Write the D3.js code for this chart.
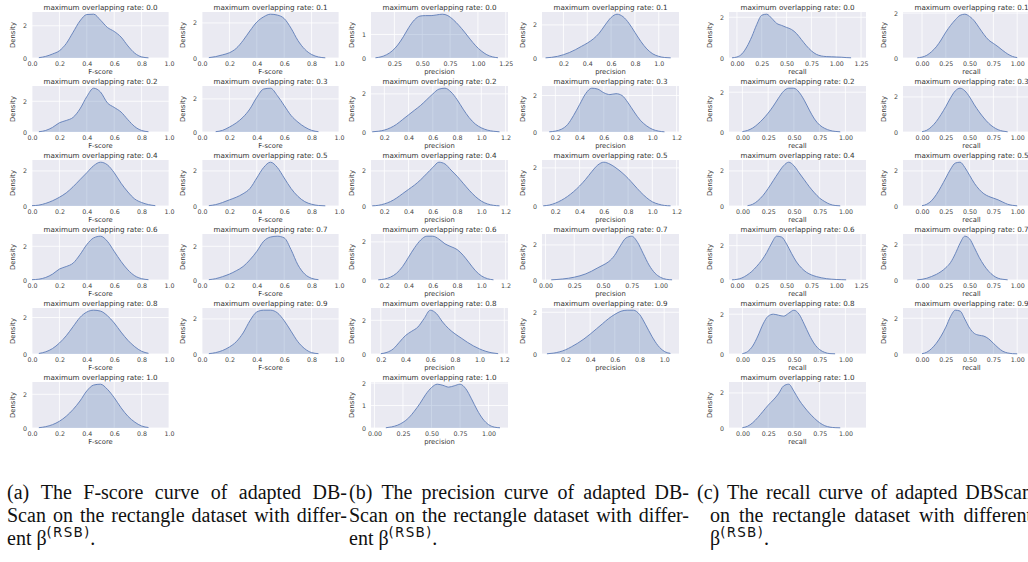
<!DOCTYPE html>
<html>
<head>
<meta charset="utf-8">
<script src="https://cdn.jsdelivr.net/npm/d3@7"></script>
<style>
  body { margin: 0; background: #fff; }
  svg { display: block; }
  .tick text { font-family: "DejaVu Sans", sans-serif; font-size: 6.3px; fill: #444; }
  .cap { font-family: "Liberation Serif", "Times New Roman", serif; font-size: 20px; fill: #111; }
</style>
</head>
<body>
<div id="chart"></div>
<script>
var rates = ["0.0", "0.1", "0.2", "0.3", "0.4", "0.5", "0.6", "0.7", "0.8", "0.9", "1.0"];
var sampleStep = 0.05; // density is read every 0.05 along x

// F-score densities
var fscoreStart = [0.05, 0.05, 0.05, 0.1, 0.0, 0.05, 0.0, 0.05, 0.05, 0.05, 0.05];
var fscoreDensity = [
  [0.02,0.1,0.25,0.45,0.9,1.6,2.3,2.7,2.72,2.35,1.9,1.65,1.3,0.75,0.3,0.07,0.01],
  [0.02,0.08,0.18,0.3,0.55,1.0,1.55,2.05,2.35,2.5,2.45,2.25,1.7,1.0,0.5,0.2,0.06,0.01],
  [0.02,0.1,0.3,0.6,0.75,0.95,1.5,2.3,2.85,2.6,1.9,1.6,1.3,0.8,0.35,0.1,0.02],
  [0.02,0.1,0.3,0.55,0.9,1.4,2.1,2.6,2.65,2.2,1.6,1.0,0.6,0.3,0.1,0.02],
  [0.02,0.05,0.15,0.3,0.5,0.75,1.1,1.5,1.9,2.3,2.5,2.35,1.9,1.3,0.8,0.4,0.2,0.08,0.02],
  [0.02,0.08,0.2,0.35,0.5,0.7,1.0,1.6,2.2,2.5,2.2,1.6,1.0,0.55,0.25,0.1,0.03,0.01],
  [0.02,0.05,0.15,0.35,0.65,0.8,1.0,1.5,2.1,2.5,2.6,2.3,1.7,1.1,0.6,0.25,0.08,0.02],
  [0.02,0.08,0.2,0.35,0.55,0.8,1.2,1.7,2.3,2.55,2.6,2.5,1.8,0.9,0.35,0.1,0.02],
  [0.03,0.12,0.3,0.6,1.0,1.5,2.0,2.3,2.4,2.35,2.1,1.7,1.2,0.75,0.4,0.15,0.04],
  [0.02,0.08,0.2,0.4,0.7,1.2,1.9,2.4,2.5,2.5,2.35,1.9,1.3,0.7,0.3,0.08,0.02],
  [0.02,0.08,0.2,0.4,0.7,1.1,1.6,2.2,2.55,2.6,2.3,1.8,1.2,0.7,0.35,0.12,0.03]
];
var fscoreXlim = [[0,1],[0,1],[0,1],[0,1],[0,1],[0,1],[0,1],[0,1],[0,1],[0,1],[0,1]];
var fscoreTickStep = [0.2,0.2,0.2,0.2,0.2,0.2,0.2,0.2,0.2,0.2,0.2];
var fscoreYStep = [2,2,2,2,2,2,2,2,2,2,2];

// precision densities
var precisionStart = [0.08, 0.05, 0.1, 0.15, 0.1, 0.1, 0.15, 0.05, 0.2, 0.05, 0.1];
var precisionDensity = [
  [0.01,0.05,0.14,0.3,0.55,0.9,1.3,1.62,1.78,1.8,1.8,1.83,1.86,1.8,1.62,1.38,1.1,0.8,0.52,0.3,0.14,0.05,0.01],
  [0.01,0.04,0.1,0.2,0.33,0.5,0.7,0.9,1.15,1.5,2.0,2.45,2.65,2.5,2.1,1.55,1.0,0.55,0.25,0.1,0.03,0.01],
  [0.01,0.04,0.1,0.22,0.4,0.65,0.9,1.15,1.4,1.7,2.0,2.25,2.3,2.1,1.7,1.2,0.75,0.42,0.22,0.1,0.04,0.01],
  [0.01,0.05,0.15,0.4,0.9,1.5,2.1,2.4,2.35,2.15,2.05,2.1,2.0,1.6,1.1,0.65,0.35,0.15,0.05,0.01],
  [0.01,0.04,0.12,0.25,0.45,0.7,0.95,1.2,1.5,1.85,2.2,2.5,2.4,2.05,1.7,1.3,0.9,0.55,0.28,0.12,0.04,0.01],
  [0.01,0.05,0.15,0.3,0.5,0.75,1.05,1.4,1.8,2.15,2.3,2.2,2.0,1.75,1.45,1.1,0.75,0.45,0.22,0.1,0.03,0.01],
  [0.01,0.05,0.15,0.35,0.7,1.2,1.7,2.1,2.3,2.3,2.15,1.9,1.75,1.6,1.3,0.9,0.5,0.22,0.07,0.01],
  [0.01,0.03,0.06,0.1,0.16,0.24,0.35,0.5,0.68,0.85,1.05,1.4,1.95,2.4,2.5,2.15,1.5,0.85,0.4,0.15,0.04,0.01],
  [0.02,0.1,0.3,0.7,1.1,1.35,1.6,2.1,2.6,2.4,1.9,1.5,1.2,0.95,0.7,0.48,0.3,0.16,0.07,0.02],
  [0.01,0.04,0.1,0.2,0.35,0.52,0.72,0.95,1.2,1.45,1.7,1.9,2.05,2.1,2.1,1.9,1.4,0.85,0.4,0.13,0.03],
  [0.01,0.05,0.12,0.25,0.45,0.75,1.1,1.5,1.8,1.95,1.9,1.82,1.88,1.95,1.75,1.3,0.8,0.4,0.15,0.04,0.01]
];
var precisionXlim = [[0.04,1.27],[0.02,1.17],[0.09,1.22],[0.09,1.22],[0.09,1.22],[0.09,1.22],[0.09,1.22],[-0.03,1.16],[0.12,1.23],[0.01,1.12],[-0.03,1.17]];
var precisionTickStep = [0.25,0.2,0.2,0.2,0.2,0.2,0.2,0.25,0.2,0.2,0.25];
var precisionYStep = [1,2,2,2,2,2,2,2,2,2,1];

// recall densities
var recallStart = [-0.05, -0.05, 0.0, 0.0, 0.05, 0.0, -0.05, -0.05, 0.0, 0.0, 0.0];
var recallDensity = [
  [0.01,0.05,0.2,0.55,1.05,1.65,2.1,2.15,1.95,1.7,1.6,1.5,1.4,1.2,0.9,0.6,0.35,0.18,0.1,0.07,0.06,0.05,0.04,0.02,0.01],
  [0.01,0.04,0.12,0.28,0.5,0.8,1.15,1.45,1.7,1.9,1.95,1.85,1.65,1.35,1.05,0.8,0.65,0.5,0.33,0.18,0.07,0.02],
  [0.02,0.08,0.2,0.4,0.65,0.95,1.3,1.7,2.05,2.2,2.2,2.0,1.6,1.1,0.65,0.35,0.18,0.08,0.03,0.01],
  [0.02,0.1,0.3,0.6,1.0,1.45,1.95,2.35,2.5,2.35,2.0,1.55,1.15,0.8,0.5,0.28,0.13,0.05,0.01],
  [0.02,0.1,0.3,0.6,1.0,1.45,1.9,2.3,2.5,2.3,1.9,1.5,1.1,0.75,0.45,0.25,0.1,0.03,0.01],
  [0.02,0.1,0.3,0.65,1.1,1.6,2.1,2.45,2.5,2.2,1.75,1.3,0.95,0.7,0.55,0.45,0.35,0.22,0.1,0.04,0.01],
  [0.01,0.04,0.12,0.28,0.5,0.8,1.15,1.6,2.15,2.55,2.5,2.1,1.55,1.05,0.7,0.45,0.3,0.2,0.13,0.08,0.05,0.03,0.02,0.01],
  [0.01,0.04,0.1,0.2,0.32,0.48,0.7,1.0,1.5,2.1,2.5,2.35,1.85,1.3,0.85,0.5,0.25,0.1,0.04,0.01],
  [0.02,0.12,0.4,0.9,1.5,1.9,2.0,1.95,1.9,2.05,2.2,2.0,1.5,0.95,0.5,0.22,0.08,0.02,0.01],
  [0.02,0.1,0.3,0.6,1.0,1.5,2.1,2.45,2.4,1.95,1.45,1.15,1.05,1.0,0.85,0.6,0.35,0.15,0.06,0.02,0.01],
  [0.02,0.1,0.3,0.6,0.95,1.3,1.6,1.95,2.4,2.5,2.1,1.6,1.2,0.85,0.55,0.3,0.13,0.05,0.02,0.01]
];
var recallXlim = [[-0.08,1.3],[-0.2,1.24],[-0.13,1.2],[-0.2,1.24],[-0.13,1.2],[-0.2,1.24],[-0.08,1.3],[-0.2,1.24],[-0.13,1.2],[-0.2,1.24],[-0.13,1.2]];
var recallTickStep = [0.25,0.25,0.25,0.25,0.25,0.25,0.25,0.25,0.25,0.25,0.25];
var recallYStep = [2,2,2,2,2,2,2,2,2,2,2];

var captions = [
  ["(a) The F-score curve of adapted DB-", "Scan on the rectangle dataset with differ-", "ent β"],
  ["(b) The precision curve of adapted DB-", "Scan on the rectangle dataset with differ-", "ent β"],
  ["(c) The recall curve of adapted DBScan", "on the rectangle dataset with different", "β"]
];
var captionSup = "(RSB)";

var svgWidth = 1028;
var svgHeight = 562;
var plotW = 137, plotH = 46;
var firstTop = 12, rowPitch = 74;

var groups = [
  { xlabel: "F-score", left: [32, 202], start: fscoreStart, dens: fscoreDensity, xlim: fscoreXlim, step: fscoreTickStep, ystep: fscoreYStep, capX: 7, capW: 340, indent: 0 },
  { xlabel: "precision", left: [371, 542], start: precisionStart, dens: precisionDensity, xlim: precisionXlim, step: precisionTickStep, ystep: precisionYStep, capX: 349, capW: 340, indent: 0 },
  { xlabel: "recall", left: [729, 903], start: recallStart, dens: recallDensity, xlim: recallXlim, step: recallTickStep, ystep: recallYStep, capX: 697, capW: 335, indent: 13 }
];

var svg = d3.select("#chart")
  .append("svg")
  .attr("width", svgWidth)
  .attr("height", svgHeight);

var area = d3.area().curve(d3.curveMonotoneX);
var line = d3.line().curve(d3.curveMonotoneX);

groups.forEach(function(grp) {
  rates.forEach(function(rate, k) {
    var row = Math.floor(k / 2), col = k % 2;
    var left = grp.left[col];
    var top = firstTop + row * rowPitch;
    var pts = grp.dens[k].map(function(d, i) { return [grp.start[k] + i * sampleStep, d]; });
    var ymax = d3.max(grp.dens[k]) * 1.05;

    var x = d3.scaleLinear().domain(grp.xlim[k]).range([0, plotW]);
    var y = d3.scaleLinear().domain([0, ymax]).range([plotH, 0]);

    var st = grp.step[k];
    var xticks = d3.range(Math.ceil(grp.xlim[k][0] / st - 1e-6), Math.floor(grp.xlim[k][1] / st + 1e-6) + 1)
      .map(function(i) { return i * st; });
    var yticks = d3.range(0, Math.floor(ymax / grp.ystep[k]) + 1).map(function(i) { return i * grp.ystep[k]; });
    var fmt = d3.format(st === 0.25 ? ".2f" : ".1f");

    var g = svg.append("g").attr("transform", `translate(${left}, ${top})`);

    g.append("rect").attr("width", plotW).attr("height", plotH).attr("fill", "#EAEAF2");

    // white grid
    g.append("g").selectAll("line").data(xticks).enter().append("line")
      .attr("x1", d => x(d)).attr("x2", d => x(d))
      .attr("y1", 0).attr("y2", plotH)
      .attr("stroke", "#fff").attr("stroke-width", 0.8);
    g.append("g").selectAll("line").data(yticks).enter().append("line")
      .attr("x1", 0).attr("x2", plotW)
      .attr("y1", d => y(d)).attr("y2", d => y(d))
      .attr("stroke", "#fff").attr("stroke-width", 0.8);

    area.x(d => x(d[0])).y0(y(0)).y1(d => y(d[1]));
    line.x(d => x(d[0])).y(d => y(d[1]));

    g.append("path").datum(pts).attr("d", area)
      .attr("fill", "#4C72B0").attr("fill-opacity", 0.28);
    g.append("path").datum(pts).attr("d", line)
      .attr("fill", "none").attr("stroke", "#5F7DB8").attr("stroke-width", 0.9);

    var bottomAxis = d3.axisBottom(x).tickValues(xticks).tickFormat(fmt).tickSize(0).tickPadding(4);
    var leftAxis = d3.axisLeft(y).tickValues(yticks).tickFormat(d3.format("d")).tickSize(0).tickPadding(5);

    g.append("g").attr("transform", `translate(0, ${plotH})`).call(bottomAxis)
      .call(a => a.select(".domain").remove());
    g.append("g").call(leftAxis)
      .call(a => a.select(".domain").remove());

    g.append("text")
      .attr("x", plotW / 2).attr("y", -2.5)
      .attr("text-anchor", "middle")
      .attr("font-family", "DejaVu Sans").attr("font-size", 7.2).attr("fill", "#333")
      .text("maximum overlapping rate: " + rate);

    g.append("text")
      .attr("x", plotW / 2).attr("y", plotH + 15.5)
      .attr("text-anchor", "middle")
      .attr("font-family", "DejaVu Sans").attr("font-size", 6.8).attr("fill", "#333")
      .text(grp.xlabel);

    g.append("text")
      .attr("transform", `translate(-17, ${plotH / 2}) rotate(-90)`)
      .attr("text-anchor", "middle")
      .attr("font-family", "DejaVu Sans").attr("font-size", 6.8).attr("fill", "#333")
      .text("Density");
  });
});

// captions, justified like the paper layout
var capY = [499, 522, 545];

function justifyLine(text, x0, yy, width) {
  var words = text.split(" ");
  var t = svg.append("text").attr("class", "cap").attr("y", yy);
  var spans = words.map(w => t.append("tspan").text(w));
  var lens = spans.map(s => s.node().getComputedTextLength());
  var gap = (width - d3.sum(lens)) / (words.length - 1);
  var cx = x0;
  spans.forEach(function(s, i) { s.attr("x", cx); cx += lens[i] + gap; });
}

groups.forEach(function(grp, gi) {
  var lines = captions[gi];
  justifyLine(lines[0], grp.capX, capY[0], grp.capW);
  justifyLine(lines[1], grp.capX + grp.indent, capY[1], grp.capW - grp.indent);
  var t = svg.append("text").attr("class", "cap")
    .attr("x", grp.capX + grp.indent).attr("y", capY[2]);
  t.append("tspan").text(lines[2]);
  t.append("tspan").attr("dy", -8)
    .attr("font-family", "DejaVu Sans").attr("font-size", 13.5).attr("letter-spacing", 1.2)
    .text(captionSup);
  t.append("tspan").attr("dy", 8).text(".");
});
</script>
</body>
</html>
